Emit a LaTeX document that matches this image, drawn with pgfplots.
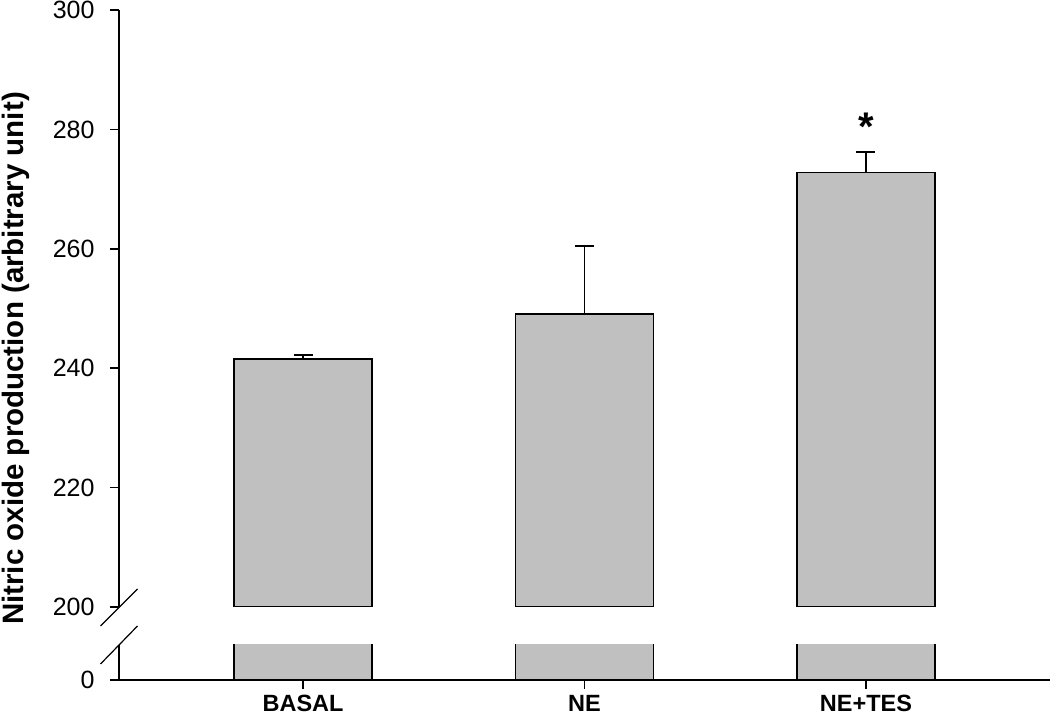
\documentclass[border=0pt]{standalone}
\usepackage{fontspec}
\setmainfont{Liberation Sans}
\usepackage{pgfplots}
\pgfplotsset{compat=1.18}
\definecolor{bargray}{RGB}{192,192,192}
\begin{document}
\begin{tikzpicture}[x=1pt,y=1pt]
\path[use as bounding box] (0,0) rectangle (1050,715);
\pgfplotsset{
 common/.style={
  scale only axis, width=931pt, xmin=0.346, xmax=3.654,
  axis line style={line width=1.5pt},
  every tick/.style={black,line width=1.5pt},
  tick align=outside, major tick length=9pt,
  /pgf/number format/assume math mode=true,
  tick label style={font=\fontsize{25}{25}\selectfont},
  y tick label style={xshift=-12pt},
  ybar, bar width=0.49,
 }
}
\begin{axis}[common, at={(119pt,35pt)}, anchor=south west, height=35pt,
  ymin=0, ymax=6, axis x line*=bottom, axis y line*=left,
  xtick={1,2,3}, xticklabels={BASAL,NE,NE+TES}, ytick={0},
  x tick label style={font=\bfseries\fontsize{23.5}{23.5}\selectfont, inner sep=1pt, yshift=-5pt}]
\addplot[fill=bargray, draw=black, line width=1.5pt] coordinates {(1,241.5) (2,249.1) (3,272.8)};
\end{axis}
\begin{axis}[common, at={(119pt,108pt)}, anchor=south west, height=597pt,
  ymin=200, ymax=300, axis x line=none, axis y line*=left,
  ytick={200,220,...,300}]
\addplot[fill=bargray, draw=black, line width=1.5pt,
  error bars/.cd, y dir=plus, y explicit, error mark=|,
  error bar style={line width=1.5pt, black},
  error mark options={black, mark size=9.5pt, line width=1.5pt}]
  coordinates {(1,241.5) +- (0,0.7) (2,249.1) +- (0,11.4) (3,272.8) +- (0,3.4)};
\node[font=\bfseries\fontsize{40}{40}\selectfont] at (axis cs:3,280.4) {*};
\end{axis}
\draw[line width=1.2pt] (100.5,89) -- (137.5,126);
\draw[line width=1.2pt] (100.5,51) -- (137.5,89);
\node[rotate=90, anchor=base, font=\bfseries\fontsize{29.5}{29.5}\selectfont] at (23,356.5) {Nitric oxide production (arbitrary unit)};
\end{tikzpicture}
\end{document}
